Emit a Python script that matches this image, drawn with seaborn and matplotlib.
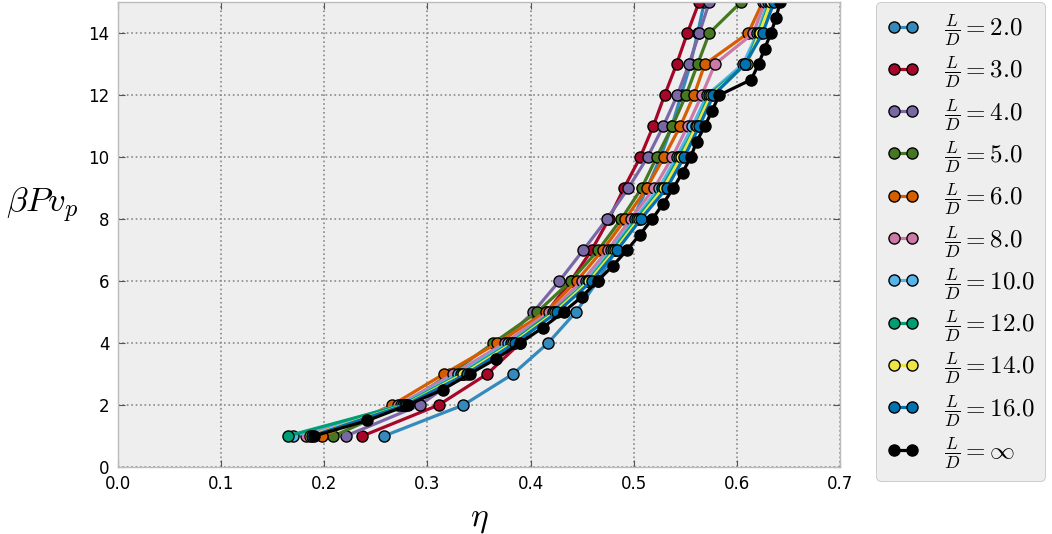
import matplotlib
matplotlib.use("Agg")
import matplotlib.pyplot as plt
import seaborn as sns

plt.style.use("bmh")
plt.rcParams["mathtext.fontset"] = "cm"
plt.rcParams["font.family"] = ["DejaVu Sans"]

# Equation of state: reduced pressure vs packing fraction for several aspect ratios
aspect_labels = [
    r"$\frac{L}{D}=2.0$", r"$\frac{L}{D}=3.0$", r"$\frac{L}{D}=4.0$",
    r"$\frac{L}{D}=5.0$", r"$\frac{L}{D}=6.0$", r"$\frac{L}{D}=8.0$",
    r"$\frac{L}{D}=10.0$", r"$\frac{L}{D}=12.0$", r"$\frac{L}{D}=14.0$",
    r"$\frac{L}{D}=16.0$", r"$\frac{L}{D}=\infty$",
]
series_colors = ["#348ABD", "#A60628", "#7A68A6", "#467821", "#D55E00",
                 "#CC79A7", "#56B4E9", "#009E73", "#F0E442", "#0072B2", "k"]

pressure = [1, 2, 3, 4, 5, 6, 7, 8, 9, 10, 11, 12, 13, 14, 15]
pressure_inf = [1, 1.5, 2, 2.5, 3, 3.5, 4, 4.5, 5, 5.5, 6, 6.5, 7, 7.5, 8,
                8.5, 9, 9.5, 10, 10.5, 11, 11.5, 12, 12.5, 13, 13.5, 14, 14.5, 15]

eta_2 = [0.258, 0.335, 0.383, 0.417, 0.444, 0.465, 0.483, 0.499, 0.513,
         0.526, 0.537, 0.546, 0.555, 0.562, 0.5685]
eta_3 = [0.237, 0.311, 0.358, 0.390, 0.416, 0.439, 0.4593, 0.476, 0.4906,
         0.5064, 0.519, 0.530, 0.5416, 0.552, 0.5634]
eta_4 = [0.221, 0.293, 0.335, 0.372, 0.4027, 0.4279, 0.4512, 0.474, 0.4948,
         0.5135, 0.5287, 0.5423, 0.5536, 0.5636, 0.5733]
eta_5 = [0.209, 0.276, 0.322, 0.364, 0.4066, 0.4389, 0.4657, 0.488, 0.5077,
         0.5223, 0.5375, 0.5507, 0.562, 0.5733, 0.604]
eta_6 = [0.198, 0.266, 0.316, 0.368, 0.4147, 0.4447, 0.470, 0.492, 0.5126,
         0.5294, 0.5452, 0.5585, 0.569, 0.611, 0.625]
eta_8 = [0.182, 0.272, 0.325, 0.375, 0.418, 0.4502, 0.475, 0.497, 0.520,
         0.5375, 0.5523, 0.566, 0.5788, 0.616, 0.627]
eta_10 = [0.170, 0.274, 0.330, 0.378, 0.4237, 0.454, 0.478, 0.501, 0.5245,
          0.5416, 0.557, 0.571, 0.606, 0.620, 0.630]
eta_12 = [0.1645, 0.276, 0.333, 0.381, 0.4214, 0.456, 0.480, 0.503, 0.5274,
          0.5442, 0.5604, 0.573, 0.609, 0.621, 0.632]
eta_14 = [0.186, 0.278, 0.335, 0.383, 0.424, 0.457, 0.482, 0.505, 0.529,
          0.546, 0.561, 0.575, 0.610, 0.622, 0.633]
eta_16 = [0.188, 0.279, 0.338, 0.385, 0.426, 0.4593, 0.484, 0.507, 0.532,
          0.549, 0.5636, 0.5773, 0.608, 0.625, 0.636]
eta_inf = [0.190, 0.242, 0.281, 0.315, 0.341, 0.367, 0.390, 0.412, 0.432,
           0.450, 0.465, 0.480, 0.4935, 0.506, 0.518, 0.5287, 0.5384, 0.5474,
           0.5553, 0.561, 0.569, 0.576, 0.583, 0.614, 0.621, 0.627, 0.633,
           0.638, 0.642]

curves = [
    (eta_2, pressure), (eta_3, pressure), (eta_4, pressure), (eta_5, pressure),
    (eta_6, pressure), (eta_8, pressure), (eta_10, pressure), (eta_12, pressure),
    (eta_14, pressure), (eta_16, pressure), (eta_inf, pressure_inf),
]

fig = plt.figure(figsize=(10.52, 5.34), dpi=100)
ax = fig.add_axes([0.112, 0.1255, 0.6865, 0.8705])
ax.set_facecolor("#eeeeee")

for (x, y), color, label in zip(curves, series_colors, aspect_labels):
    sns.lineplot(x=x, y=y, ax=ax, color=color, label=label, sort=False,
                 estimator=None, linewidth=2.3, marker="o", markersize=8,
                 markeredgecolor="k", markeredgewidth=1)

ax.set_xlim(0, 0.7)
ax.set_ylim(0, 15)
ax.set_xticks([0.0, 0.1, 0.2, 0.3, 0.4, 0.5, 0.6, 0.7])
ax.set_yticks([0, 2, 4, 6, 8, 10, 12, 14])
ax.tick_params(axis="both", which="major", direction="in", top=True, right=True,
               labelsize=12, length=5, color="#555555", labelcolor="black",
               pad=6)
ax.grid(True, color="#8a8a8a", linestyle=":", linewidth=1.2)
for spine in ax.spines.values():
    spine.set_color("#bcbcbc")
    spine.set_linewidth(1)

ax.set_xlabel(r"$\eta$", fontsize=24)
ax.set_ylabel(r"$\beta P v_p$", fontsize=25, rotation=0)
ax.yaxis.set_label_coords(-0.105, 0.52)
ax.xaxis.set_label_coords(0.5, -0.075)

ax.legend(loc="upper left", bbox_to_anchor=(1.05, 1.0), borderaxespad=0,
          numpoints=2, fontsize=18, frameon=True, fancybox=True,
          facecolor="#eeeeee", edgecolor="#bcbcbc", framealpha=1,
          handlelength=1.35, handletextpad=0.95, labelspacing=0.26,
          borderpad=0.4)

fig.savefig("out.png", dpi=100)
